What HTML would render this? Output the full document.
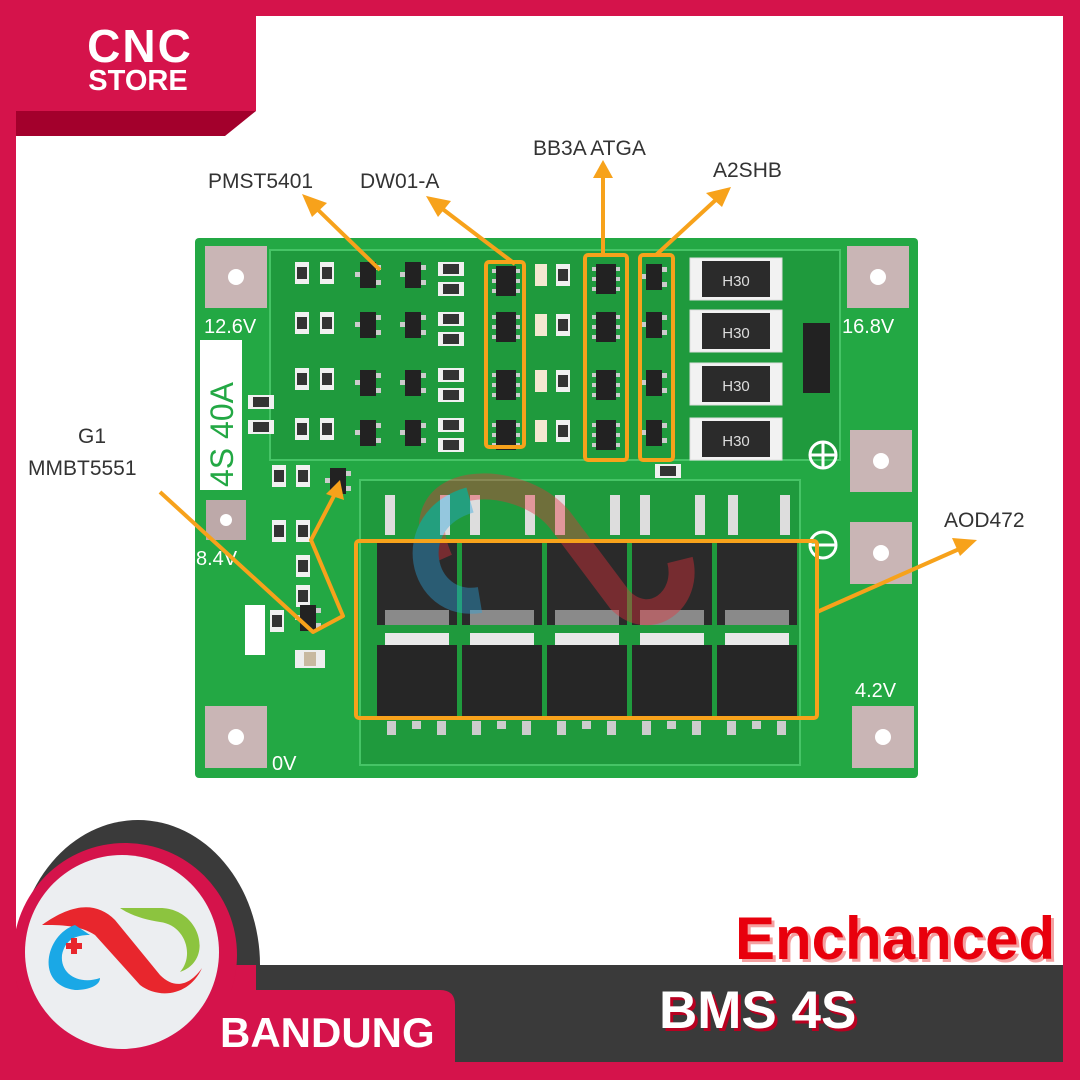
<!DOCTYPE html>
<html><head><meta charset="utf-8"><style>
html,body{margin:0;padding:0;width:1080px;height:1080px;overflow:hidden;background:#fff}
svg{display:block}
text{font-family:"Liberation Sans",Arial,sans-serif}
</style></head><body>
<svg width="1080" height="1080" viewBox="0 0 1080 1080" xmlns="http://www.w3.org/2000/svg">
<defs>
<g id="res"><rect x="0" y="0" width="14" height="22" fill="#f0f0f0"/><rect x="2" y="5" width="10" height="12" fill="#333"/></g>
<g id="resh"><rect x="0" y="0" width="26" height="14" fill="#f0f0f0"/><rect x="5" y="2" width="16" height="10" fill="#333"/></g>
<g id="sot"><rect x="0" y="0" width="16" height="26" fill="#222"/><rect x="16" y="3" width="5" height="5" fill="#ccc"/><rect x="16" y="18" width="5" height="5" fill="#ccc"/><rect x="-5" y="10" width="5" height="5" fill="#ccc"/></g>
<g id="ic6"><rect x="0" y="0" width="20" height="30" fill="#222"/><rect x="-4" y="3" width="4" height="4" fill="#ccc"/><rect x="-4" y="13" width="4" height="4" fill="#ccc"/><rect x="-4" y="23" width="4" height="4" fill="#ccc"/><rect x="20" y="3" width="4" height="4" fill="#ccc"/><rect x="20" y="13" width="4" height="4" fill="#ccc"/><rect x="20" y="23" width="4" height="4" fill="#ccc"/></g>
<g id="h30"><rect x="0" y="0" width="92" height="42" fill="#f2f2f2" stroke="#ddd"/><rect x="12" y="3" width="68" height="36" fill="#2b2b2b"/><text x="46" y="28" font-size="15" fill="#ddd" text-anchor="middle">H30</text></g>
<g id="pad"><rect x="0" y="0" width="62" height="62" fill="#c9b5b5"/><circle cx="31" cy="31" r="8" fill="#fff"/></g>
<g id="fetT"><rect x="0" y="0" width="80" height="85" fill="#2a2a2a"/><rect x="8" y="70" width="64" height="15" fill="#8a8a8a"/></g>
<g id="fetB"><rect x="8" y="0" width="64" height="14" fill="#e8e8e8"/><rect x="0" y="12" width="80" height="73" fill="#262626"/><rect x="10" y="88" width="9" height="14" fill="#ccc"/><rect x="35" y="88" width="9" height="8" fill="#ccc"/><rect x="60" y="88" width="9" height="14" fill="#ccc"/></g>
</defs>

<rect x="0" y="0" width="1080" height="1080" fill="#d5134b"/>
<rect x="16" y="16" width="1047" height="949" fill="#fff"/>
<rect x="16" y="16" width="240" height="95" fill="#d5134b"/>
<polygon points="16,111 256,111 225,136 16,136" fill="#a3002c"/>
<text x="140" y="62" font-size="46" font-weight="bold" fill="#fff" text-anchor="middle" letter-spacing="2">CNC</text>
<text x="138" y="90" font-size="29" font-weight="bold" fill="#fff" text-anchor="middle">STORE</text>

<rect x="195" y="238" width="723" height="540" rx="4" fill="#23a844"/>
<rect x="270" y="250" width="570" height="210" fill="#1f9a3d" stroke="#46c466" stroke-width="2"/>
<rect x="360" y="480" width="440" height="285" fill="#1f9a3d" stroke="#46c466" stroke-width="2"/>
<use href="#pad" x="205" y="246"/>
<use href="#pad" x="847" y="246"/>
<use href="#pad" x="850" y="430"/>
<use href="#pad" x="850" y="522"/>
<use href="#pad" x="205" y="706"/>
<use href="#pad" x="852" y="706"/>
<rect x="206" y="500" width="40" height="40" fill="#bda9a9"/><circle cx="226" cy="520" r="6" fill="#fff"/>
<text x="204" y="333" font-size="20" fill="#fff">12.6V</text>
<text x="842" y="333" font-size="20" fill="#fff">16.8V</text>
<text x="196" y="565" font-size="20" fill="#fff">8.4V</text>
<text x="272" y="770" font-size="20" fill="#fff">0V</text>
<text x="855" y="697" font-size="20" fill="#fff">4.2V</text>
<rect x="200" y="340" width="42" height="150" fill="#fff"/>
<text transform="translate(233,487) rotate(-90)" font-size="32" fill="#23a844">4S 40A</text>
<circle cx="823" cy="455" r="13" fill="none" stroke="#fff" stroke-width="3"/><path d="M810 455h26M823 442v26" stroke="#fff" stroke-width="3"/>
<circle cx="823" cy="545" r="13" fill="none" stroke="#fff" stroke-width="3"/><path d="M810 545h26" stroke="#fff" stroke-width="3"/>
<rect x="803" y="323" width="27" height="70" fill="#222"/>

<g>
<use href="#res" x="295" y="262"/><use href="#res" x="320" y="262"/><use href="#sot" x="360" y="262"/><use href="#sot" x="405" y="262"/><use href="#resh" x="438" y="262"/><use href="#resh" x="438" y="282"/><use href="#ic6" x="496" y="266"/><rect x="535" y="264" width="12" height="22" fill="#f4e8d0"/><use href="#res" x="556" y="264"/><use href="#ic6" x="596" y="264"/><use href="#sot" x="646" y="264"/><use href="#h30" x="690" y="258"/>
<use href="#res" x="295" y="312"/><use href="#res" x="320" y="312"/><use href="#sot" x="360" y="312"/><use href="#sot" x="405" y="312"/><use href="#resh" x="438" y="312"/><use href="#resh" x="438" y="332"/><use href="#ic6" x="496" y="312"/><rect x="535" y="314" width="12" height="22" fill="#f4e8d0"/><use href="#res" x="556" y="314"/><use href="#ic6" x="596" y="312"/><use href="#sot" x="646" y="312"/><use href="#h30" x="690" y="310"/>
<use href="#res" x="295" y="368"/><use href="#res" x="320" y="368"/><use href="#sot" x="360" y="370"/><use href="#sot" x="405" y="370"/><use href="#resh" x="438" y="368"/><use href="#resh" x="438" y="388"/><use href="#ic6" x="496" y="370"/><rect x="535" y="370" width="12" height="22" fill="#f4e8d0"/><use href="#res" x="556" y="370"/><use href="#ic6" x="596" y="370"/><use href="#sot" x="646" y="370"/><use href="#h30" x="690" y="363"/>
<use href="#res" x="295" y="418"/><use href="#res" x="320" y="418"/><use href="#sot" x="360" y="420"/><use href="#sot" x="405" y="420"/><use href="#resh" x="438" y="418"/><use href="#resh" x="438" y="438"/><use href="#ic6" x="496" y="420"/><rect x="535" y="420" width="12" height="22" fill="#f4e8d0"/><use href="#res" x="556" y="420"/><use href="#ic6" x="596" y="420"/><use href="#sot" x="646" y="420"/><use href="#h30" x="690" y="418"/>
<use href="#resh" x="248" y="395"/><use href="#resh" x="248" y="420"/>
<use href="#res" x="272" y="465"/><use href="#res" x="296" y="465"/><use href="#sot" x="330" y="468"/>
<use href="#res" x="272" y="520"/><use href="#res" x="296" y="520"/><use href="#res" x="296" y="555"/><use href="#res" x="296" y="585"/><use href="#sot" x="300" y="605"/>
<rect x="245" y="605" width="20" height="50" fill="#fff"/>
<use href="#res" x="270" y="610"/><rect x="295" y="650" width="30" height="18" fill="#eee"/><rect x="304" y="652" width="12" height="14" fill="#c8b9a0"/>
<use href="#resh" x="655" y="464"/>
</g>

<g fill="#ddd">
<rect x="385" y="495" width="10" height="40"/><rect x="440" y="495" width="10" height="40"/>
<rect x="470" y="495" width="10" height="40"/><rect x="525" y="495" width="10" height="40"/>
<rect x="555" y="495" width="10" height="40"/><rect x="610" y="495" width="10" height="40"/>
<rect x="640" y="495" width="10" height="40"/><rect x="695" y="495" width="10" height="40"/>
<rect x="728" y="495" width="10" height="40"/><rect x="780" y="495" width="10" height="40"/>
</g>
<use href="#fetT" x="377" y="540"/><use href="#fetT" x="462" y="540"/><use href="#fetT" x="547" y="540"/><use href="#fetT" x="632" y="540"/><use href="#fetT" x="717" y="540"/>
<use href="#fetB" x="377" y="633"/><use href="#fetB" x="462" y="633"/><use href="#fetB" x="547" y="633"/><use href="#fetB" x="632" y="633"/><use href="#fetB" x="717" y="633"/>

<g opacity="0.4">
<path d="M440 560 C400 470 520 470 560 520 L620 600 C650 630 690 600 680 560" fill="none" stroke="#e8303a" stroke-width="26"/>
<path d="M470 500 C400 520 420 610 480 600" fill="none" stroke="#2aa7e0" stroke-width="26"/>
</g>

<g fill="none" stroke="#f7a21b" stroke-width="4" stroke-linejoin="round">
<rect x="486" y="262" width="38" height="185" rx="3"/>
<rect x="585" y="255" width="42" height="205" rx="3"/>
<rect x="640" y="255" width="33" height="205" rx="3"/>
<rect x="356" y="541" width="461" height="177" rx="3"/>
<path d="M380 270 L312 204"/>
<path d="M515 264 L436 204"/>
<path d="M603 255 L603 172"/>
<path d="M656 255 L720 196"/>
<path d="M817 612 L966 546"/>
<path d="M160 492 L313 632 L343 616 L311 540 L336 492"/>
</g>
<g fill="#f7a21b">
<polygon points="302,194 327,203 312,217"/>
<polygon points="426,196 451,201 438,217"/>
<polygon points="603,160 593,178 613,178"/>
<polygon points="731,187 706,193 722,207"/>
<polygon points="977,540 952,538 960,556"/>
<polygon points="340,480 326,494 344,500"/>
</g>

<g font-size="21" fill="#333">
<text x="208" y="188">PMST5401</text>
<text x="360" y="188">DW01-A</text>
<text x="533" y="155">BB3A ATGA</text>
<text x="713" y="177">A2SHB</text>
<text x="78" y="443">G1</text>
<text x="28" y="475">MMBT5551</text>
<text x="944" y="527">AOD472</text>
</g>

<rect x="250" y="965" width="813" height="97" fill="#3a3a3a"/>
<ellipse cx="138" cy="965" rx="122" ry="145" fill="#3a3a3a"/>
<rect x="16" y="965" width="240" height="100" fill="#d5134b"/>
<circle cx="125" cy="955" r="112" fill="#d5134b"/>
<path d="M16 990 H440 Q455 990 455 1005 V1080 H0 V990 Z" fill="#d5134b"/>
<rect x="0" y="1062" width="1080" height="18" fill="#d5134b"/>
<rect x="0" y="0" width="16" height="1080" fill="#d5134b"/>
<circle cx="122" cy="952" r="97" fill="#eceef1"/>
<path d="M42 925 C70 905 95 900 115 920 L160 975 C175 990 190 985 202 968 C190 995 160 1000 140 985 L95 935 C80 925 60 925 42 925 Z" fill="#e8262d"/>
<path d="M75 925 C45 935 35 985 75 990 C90 990 100 985 100 978 C80 985 60 975 62 955 C65 940 75 935 90 935 Z" fill="#1aa8e6"/>
<path d="M120 908 L160 908 C200 908 215 960 180 972 C195 955 185 925 160 922 C145 920 130 915 120 908 Z" fill="#8cc43f"/>
<path d="M66 946h16M74 938v16" stroke="#e8262d" stroke-width="6"/>
<text x="220" y="1047" font-size="42" font-weight="bold" fill="#fff">BANDUNG</text>
<text x="662" y="1031" font-size="53" font-weight="bold" fill="#b80020">BMS 4S</text>
<text x="659" y="1028" font-size="53" font-weight="bold" fill="#fff">BMS 4S</text>
<text x="738" y="962" font-size="60" font-weight="bold" fill="#f4a0a0">Enchanced</text>
<text x="735" y="959" font-size="60" font-weight="bold" fill="#e8000c">Enchanced</text>
</svg>
</body></html>
